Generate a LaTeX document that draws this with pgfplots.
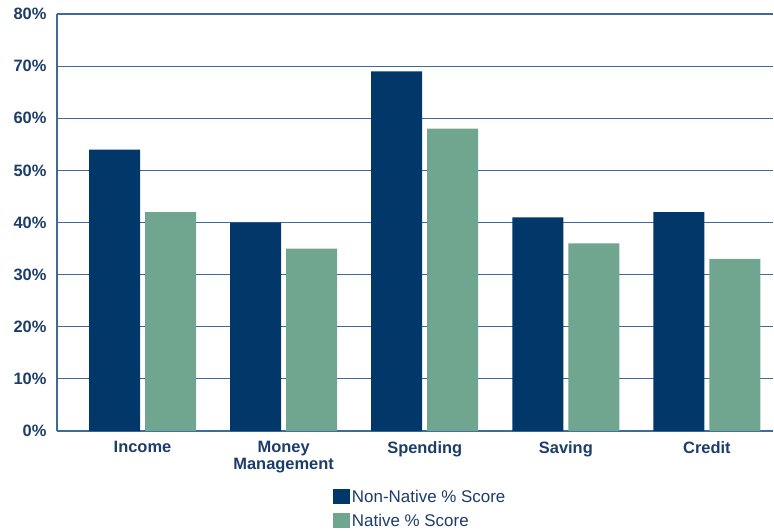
\documentclass[border=0pt]{standalone}
\usepackage{pgfplots}
\pgfplotsset{compat=1.18}
\usepackage{fontspec}
\setmainfont{Liberation Sans}
\definecolor{navy}{HTML}{02376A}
\definecolor{sage}{HTML}{70A58F}
\definecolor{txt}{HTML}{1C3D69}
\definecolor{gridc}{HTML}{3F6B9A}
\begin{document}
\begin{tikzpicture}
\begin{axis}[
    at={(0,0)}, anchor=south west,
    scale only axis,
    width=716bp, height=417bp,
    ybar, bar width=51bp,
    xmin=-0.606, xmax=4.468,
    ymin=0, ymax=80,
    ytick={0,10,...,80},
    yticklabel={\pgfmathprintnumber{\tick}\%},
    /pgf/number format/assume math mode=true,
    xtick=data,
    xticklabels={Income, {Money\\Management}, Spending, Saving, Credit},
    xticklabel style={align=center, font=\fontsize{16.5}{17}\selectfont\bfseries, text=txt, yshift=-7bp},
    yticklabel style={font=\fontsize{16.5}{17}\selectfont\bfseries, text=txt, xshift=-7bp},
    major tick length=0pt,
    axis x line*=bottom, axis y line*=left,
    axis line style={gridc, line width=1.2bp, -},
    ymajorgrids, grid style={gridc, line width=1.2bp},
    legend style={at={(0.381,-0.132)}, anchor=north west, draw=none,
        font=\fontsize{17}{19}\selectfont, text=txt,
        row sep=6bp, cells={anchor=west}},
    legend image code/.code={\fill[#1] (0bp,-7bp) rectangle (17bp,8bp);},
]
\addplot[fill=navy, draw=none, bar shift=-28bp] coordinates {(0,54) (1,40) (2,69) (3,41) (4,42)};
\addplot[fill=sage, draw=none, bar shift=28bp] coordinates {(0,42) (1,35) (2,58) (3,36) (4,33)};
\legend{Non-Native \% Score, Native \% Score}
\end{axis}
\pgfresetboundingbox
\path[use as bounding box] (-57bp,-100bp) rectangle (717bp,431bp);
\end{tikzpicture}
\end{document}
